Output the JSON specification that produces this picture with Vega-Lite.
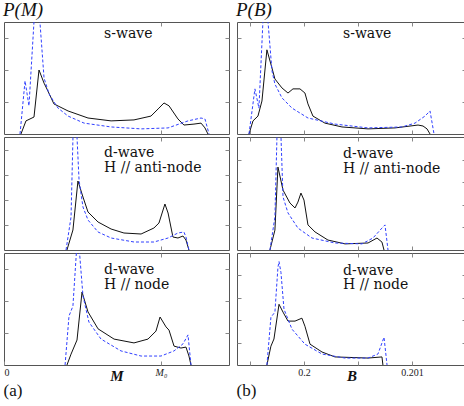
{
"$schema": "https://vega.github.io/schema/vega-lite/v6.json",
"padding": {"left": 3, "top": 1, "right": 0, "bottom": 0},
"background": "white",
"spacing": 6,
"config": {
  "view": {"stroke": "#555", "strokeWidth": 1},
  "axis": {"domain": false, "grid": false, "ticks": true, "tickSize": -4, "tickColor": "#888", "labels": false, "labelFont": "Liberation Serif", "labelFontSize": 10, "labelColor": "#222", "labelPadding": 6, "titleFont": "Liberation Serif", "titleFontStyle": "italic", "titleFontWeight": "bold", "titleFontSize": 15, "titleColor": "#111", "titlePadding": -9},
  "text": {"font": "DejaVu Serif", "fontSize": 14, "color": "#111", "align": "left", "baseline": "alphabetic"},
  "title": {"font": "Liberation Serif", "fontWeight": "normal", "color": "#111", "anchor": "start"}
},
"datasets": {"curves": [
{"p":"a1","s":"k","x":0.108,"y":0},{"p":"a1","s":"k","x":0.140,"y":0.41},{"p":"a1","s":"k","x":0.191,"y":0.53},{"p":"a1","s":"k","x":0.223,"y":2.0},{"p":"a1","s":"k","x":0.255,"y":1.59},{"p":"a1","s":"k","x":0.280,"y":1.34},{"p":"a1","s":"k","x":0.318,"y":0.94},{"p":"a1","s":"k","x":0.408,"y":0.72},{"p":"a1","s":"k","x":0.535,"y":0.5},{"p":"a1","s":"k","x":0.682,"y":0.41},{"p":"a1","s":"k","x":0.828,"y":0.44},{"p":"a1","s":"k","x":0.936,"y":0.56},{"p":"a1","s":"k","x":0.987,"y":0.81},{"p":"a1","s":"k","x":1.019,"y":0.97},{"p":"a1","s":"k","x":1.051,"y":0.88},{"p":"a1","s":"k","x":1.108,"y":0.47},{"p":"a1","s":"k","x":1.146,"y":0.28},{"p":"a1","s":"k","x":1.210,"y":0.31},{"p":"a1","s":"k","x":1.255,"y":0.34},{"p":"a1","s":"k","x":1.280,"y":0.19},{"p":"a1","s":"k","x":1.299,"y":0},
{"p":"a1","s":"b","x":0.102,"y":0},{"p":"a1","s":"b","x":0.134,"y":1.66},{"p":"a1","s":"b","x":0.159,"y":0.88},{"p":"a1","s":"b","x":0.208,"y":4.9},{"p":"a1","s":"b","x":0.255,"y":1.75},{"p":"a1","s":"b","x":0.287,"y":1.25},{"p":"a1","s":"b","x":0.344,"y":0.81},{"p":"a1","s":"b","x":0.408,"y":0.56},{"p":"a1","s":"b","x":0.510,"y":0.34},{"p":"a1","s":"b","x":0.682,"y":0.22},{"p":"a1","s":"b","x":0.873,"y":0.16},{"p":"a1","s":"b","x":1.045,"y":0.19},{"p":"a1","s":"b","x":1.172,"y":0.41},{"p":"a1","s":"b","x":1.255,"y":0.5},{"p":"a1","s":"b","x":1.280,"y":0.47},{"p":"a1","s":"b","x":1.306,"y":0},
{"p":"b1","s":"k","x":0.199491,"y":0},{"p":"b1","s":"k","x":0.199528,"y":0.41},{"p":"b1","s":"k","x":0.199574,"y":0.56},{"p":"b1","s":"k","x":0.199611,"y":1.03},{"p":"b1","s":"k","x":0.199657,"y":2.63},{"p":"b1","s":"k","x":0.199704,"y":2.06},{"p":"b1","s":"k","x":0.199731,"y":1.72},{"p":"b1","s":"k","x":0.199796,"y":1.44},{"p":"b1","s":"k","x":0.199852,"y":1.28},{"p":"b1","s":"k","x":0.199898,"y":1.41},{"p":"b1","s":"k","x":0.199963,"y":1.41},{"p":"b1","s":"k","x":0.200009,"y":1.28},{"p":"b1","s":"k","x":0.200037,"y":0.94},{"p":"b1","s":"k","x":0.200083,"y":0.56},{"p":"b1","s":"k","x":0.200194,"y":0.34},{"p":"b1","s":"k","x":0.200352,"y":0.22},{"p":"b1","s":"k","x":0.200593,"y":0.16},{"p":"b1","s":"k","x":0.200843,"y":0.19},{"p":"b1","s":"k","x":0.201056,"y":0.28},{"p":"b1","s":"k","x":0.201102,"y":0.25},{"p":"b1","s":"k","x":0.201139,"y":0.16},{"p":"b1","s":"k","x":0.201167,"y":0},
{"p":"b1","s":"b","x":0.199491,"y":0},{"p":"b1","s":"b","x":0.199546,"y":1.41},{"p":"b1","s":"b","x":0.199583,"y":0.81},{"p":"b1","s":"b","x":0.199637,"y":4.75},{"p":"b1","s":"b","x":0.199704,"y":1.97},{"p":"b1","s":"b","x":0.199731,"y":1.56},{"p":"b1","s":"b","x":0.199796,"y":1.13},{"p":"b1","s":"b","x":0.199889,"y":0.81},{"p":"b1","s":"b","x":0.200037,"y":0.5},{"p":"b1","s":"b","x":0.200287,"y":0.31},{"p":"b1","s":"b","x":0.200593,"y":0.19},{"p":"b1","s":"b","x":0.200907,"y":0.22},{"p":"b1","s":"b","x":0.201028,"y":0.34},{"p":"b1","s":"b","x":0.201120,"y":0.56},{"p":"b1","s":"b","x":0.201167,"y":0.72},{"p":"b1","s":"b","x":0.201204,"y":0},
{"p":"a2","s":"k","x":0.401,"y":0},{"p":"a2","s":"k","x":0.439,"y":0.8},{"p":"a2","s":"k","x":0.471,"y":2.76},{"p":"a2","s":"k","x":0.503,"y":2.12},{"p":"a2","s":"k","x":0.535,"y":1.52},{"p":"a2","s":"k","x":0.599,"y":1.12},{"p":"a2","s":"k","x":0.682,"y":0.84},{"p":"a2","s":"k","x":0.764,"y":0.68},{"p":"a2","s":"k","x":0.873,"y":0.64},{"p":"a2","s":"k","x":0.955,"y":0.88},{"p":"a2","s":"k","x":0.987,"y":1.08},{"p":"a2","s":"k","x":1.025,"y":1.84},{"p":"a2","s":"k","x":1.045,"y":1.48},{"p":"a2","s":"k","x":1.076,"y":0.52},{"p":"a2","s":"k","x":1.108,"y":0.48},{"p":"a2","s":"k","x":1.140,"y":0.56},{"p":"a2","s":"k","x":1.159,"y":0.4},{"p":"a2","s":"k","x":1.178,"y":0},
{"p":"a2","s":"b","x":0.395,"y":0},{"p":"a2","s":"b","x":0.427,"y":1.32},{"p":"a2","s":"b","x":0.448,"y":6.76},{"p":"a2","s":"b","x":0.478,"y":2.8},{"p":"a2","s":"b","x":0.503,"y":1.72},{"p":"a2","s":"b","x":0.535,"y":1.2},{"p":"a2","s":"b","x":0.599,"y":0.72},{"p":"a2","s":"b","x":0.682,"y":0.48},{"p":"a2","s":"b","x":0.828,"y":0.32},{"p":"a2","s":"b","x":0.955,"y":0.32},{"p":"a2","s":"b","x":1.045,"y":0.48},{"p":"a2","s":"b","x":1.108,"y":0.68},{"p":"a2","s":"b","x":1.146,"y":0.72},{"p":"a2","s":"b","x":1.159,"y":0.52},{"p":"a2","s":"b","x":1.178,"y":0},
{"p":"b2","s":"k","x":0.199685,"y":0},{"p":"b2","s":"k","x":0.199731,"y":0.88},{"p":"b2","s":"k","x":0.199759,"y":3.67},{"p":"b2","s":"k","x":0.199806,"y":2.65},{"p":"b2","s":"k","x":0.199870,"y":2.08},{"p":"b2","s":"k","x":0.199917,"y":1.86},{"p":"b2","s":"k","x":0.199944,"y":2.12},{"p":"b2","s":"k","x":0.199972,"y":2.52},{"p":"b2","s":"k","x":0.2,"y":2.21},{"p":"b2","s":"k","x":0.200037,"y":1.11},{"p":"b2","s":"k","x":0.200102,"y":0.8},{"p":"b2","s":"k","x":0.200222,"y":0.44},{"p":"b2","s":"k","x":0.200380,"y":0.27},{"p":"b2","s":"k","x":0.200593,"y":0.31},{"p":"b2","s":"k","x":0.200676,"y":0.53},{"p":"b2","s":"k","x":0.200722,"y":0.35},{"p":"b2","s":"k","x":0.200741,"y":0},
{"p":"b2","s":"b","x":0.199685,"y":0},{"p":"b2","s":"b","x":0.199731,"y":1.46},{"p":"b2","s":"b","x":0.199766,"y":8.0},{"p":"b2","s":"b","x":0.199806,"y":2.35},{"p":"b2","s":"b","x":0.199852,"y":1.64},{"p":"b2","s":"b","x":0.199944,"y":0.97},{"p":"b2","s":"b","x":0.200074,"y":0.53},{"p":"b2","s":"b","x":0.200287,"y":0.31},{"p":"b2","s":"b","x":0.200537,"y":0.27},{"p":"b2","s":"b","x":0.200639,"y":0.53},{"p":"b2","s":"b","x":0.200722,"y":0.97},{"p":"b2","s":"b","x":0.200750,"y":1.11},{"p":"b2","s":"b","x":0.200778,"y":0},
{"p":"a3","s":"k","x":0.401,"y":0},{"p":"a3","s":"k","x":0.427,"y":0.34},{"p":"a3","s":"k","x":0.465,"y":0.78},{"p":"a3","s":"k","x":0.497,"y":2.28},{"p":"a3","s":"k","x":0.535,"y":1.66},{"p":"a3","s":"k","x":0.599,"y":1.13},{"p":"a3","s":"k","x":0.701,"y":0.81},{"p":"a3","s":"k","x":0.828,"y":0.69},{"p":"a3","s":"k","x":0.917,"y":0.81},{"p":"a3","s":"k","x":0.968,"y":1.06},{"p":"a3","s":"k","x":0.994,"y":1.5},{"p":"a3","s":"k","x":1.032,"y":1.19},{"p":"a3","s":"k","x":1.051,"y":1.09},{"p":"a3","s":"k","x":1.083,"y":0.59},{"p":"a3","s":"k","x":1.127,"y":0.53},{"p":"a3","s":"k","x":1.159,"y":0.56},{"p":"a3","s":"k","x":1.178,"y":0.28},{"p":"a3","s":"k","x":1.191,"y":0},
{"p":"a3","s":"b","x":0.389,"y":0},{"p":"a3","s":"b","x":0.414,"y":1.53},{"p":"a3","s":"b","x":0.439,"y":1.84},{"p":"a3","s":"b","x":0.470,"y":4.19},{"p":"a3","s":"b","x":0.503,"y":2.16},{"p":"a3","s":"b","x":0.541,"y":1.34},{"p":"a3","s":"b","x":0.618,"y":0.81},{"p":"a3","s":"b","x":0.745,"y":0.44},{"p":"a3","s":"b","x":0.873,"y":0.28},{"p":"a3","s":"b","x":1.0,"y":0.28},{"p":"a3","s":"b","x":1.083,"y":0.44},{"p":"a3","s":"b","x":1.140,"y":0.66},{"p":"a3","s":"b","x":1.172,"y":0.94},{"p":"a3","s":"b","x":1.191,"y":0},
{"p":"b3","s":"k","x":0.199657,"y":0},{"p":"b3","s":"k","x":0.199694,"y":0.84},{"p":"b3","s":"k","x":0.199722,"y":1.16},{"p":"b3","s":"k","x":0.199769,"y":2.71},{"p":"b3","s":"k","x":0.199806,"y":2.36},{"p":"b3","s":"k","x":0.199852,"y":1.96},{"p":"b3","s":"k","x":0.199917,"y":1.96},{"p":"b3","s":"k","x":0.199981,"y":2.09},{"p":"b3","s":"k","x":0.200009,"y":1.73},{"p":"b3","s":"k","x":0.200056,"y":0.93},{"p":"b3","s":"k","x":0.200167,"y":0.58},{"p":"b3","s":"k","x":0.200287,"y":0.36},{"p":"b3","s":"k","x":0.200593,"y":0.31},{"p":"b3","s":"k","x":0.200722,"y":0.36},{"p":"b3","s":"k","x":0.200731,"y":0},
{"p":"b3","s":"b","x":0.199657,"y":0},{"p":"b3","s":"b","x":0.199694,"y":2.13},{"p":"b3","s":"b","x":0.199731,"y":2.36},{"p":"b3","s":"b","x":0.199759,"y":4.36},{"p":"b3","s":"b","x":0.199769,"y":4.62},{"p":"b3","s":"b","x":0.199787,"y":4.13},{"p":"b3","s":"b","x":0.199815,"y":2.49},{"p":"b3","s":"b","x":0.199889,"y":1.6},{"p":"b3","s":"b","x":0.200009,"y":0.93},{"p":"b3","s":"b","x":0.200167,"y":0.49},{"p":"b3","s":"b","x":0.200380,"y":0.31},{"p":"b3","s":"b","x":0.200593,"y":0.31},{"p":"b3","s":"b","x":0.200685,"y":0.49},{"p":"b3","s":"b","x":0.200741,"y":1.24},{"p":"b3","s":"b","x":0.200769,"y":0}
]},
"hconcat": [
{"spacing": 1,
 "title": {"text": "P(M)", "font": "Liberation Serif", "fontStyle": "italic", "fontSize": 19, "offset": 1},
 "vconcat": [
  {"width": 225, "height": 112,
   "layer": [
    {"data": {"name": "curves"}, "transform": [{"filter": "datum.p == 'a1' && datum.s == 'k'"}],
     "mark": {"type": "line", "color": "#111", "strokeWidth": 1, "clip": true},
     "encoding": {"x": {"field": "x", "type": "quantitative", "scale": {"domain": [0, 1.4331], "nice": false, "zero": false}, "axis": {"orient": "bottom", "values": [1], "title": null}},
                  "y": {"field": "y", "type": "quantitative", "scale": {"domain": [0, 3.5], "nice": false}, "axis": {"orient": "left", "values": [1, 2, 3], "title": null}}}},
    {"data": {"name": "curves"}, "transform": [{"filter": "datum.p == 'a1' && datum.s == 'b'"}],
     "mark": {"type": "line", "color": "#3040ff", "strokeWidth": 1, "strokeDash": [3, 2], "clip": true},
     "encoding": {"x": {"field": "x", "type": "quantitative", "axis": {"orient": "top", "values": [1], "title": null}},
                  "y": {"field": "y", "type": "quantitative", "axis": {"orient": "right", "values": [1, 2, 3], "title": null}}}},
    {"data": {"values": [{"t": "s-wave"}]}, "mark": {"type": "text"},
     "encoding": {"x": {"datum": 0.637, "type": "quantitative", "axis": null}, "y": {"datum": 3.0, "type": "quantitative", "axis": null}, "text": {"field": "t"}}}
   ],
   "resolve": {"axis": {"x": "independent", "y": "independent"}}},
  {"width": 225, "height": 113,
   "layer": [
    {"data": {"name": "curves"}, "transform": [{"filter": "datum.p == 'a2' && datum.s == 'k'"}],
     "mark": {"type": "line", "color": "#111", "strokeWidth": 1, "clip": true},
     "encoding": {"x": {"field": "x", "type": "quantitative", "scale": {"domain": [0, 1.4331], "nice": false, "zero": false}, "axis": {"orient": "bottom", "values": [1], "title": null}},
                  "y": {"field": "y", "type": "quantitative", "scale": {"domain": [0, 4.52], "nice": false}, "axis": {"orient": "left", "values": [1, 2, 3, 4], "title": null}}}},
    {"data": {"name": "curves"}, "transform": [{"filter": "datum.p == 'a2' && datum.s == 'b'"}],
     "mark": {"type": "line", "color": "#3040ff", "strokeWidth": 1, "strokeDash": [3, 2], "clip": true},
     "encoding": {"x": {"field": "x", "type": "quantitative", "axis": {"orient": "top", "values": [1], "title": null}},
                  "y": {"field": "y", "type": "quantitative", "axis": {"orient": "right", "values": [1, 2, 3, 4], "title": null}}}},
    {"data": {"values": [{"t": "d-wave"}]}, "mark": {"type": "text"},
     "encoding": {"x": {"datum": 0.637, "type": "quantitative", "axis": null}, "y": {"datum": 3.72, "type": "quantitative", "axis": null}, "text": {"field": "t"}}},
    {"data": {"values": [{"t": "H // anti-node"}]}, "mark": {"type": "text"},
     "encoding": {"x": {"datum": 0.637, "type": "quantitative", "axis": null}, "y": {"datum": 3.12, "type": "quantitative", "axis": null}, "text": {"field": "t"}}}
   ],
   "resolve": {"axis": {"x": "independent", "y": "independent"}}},
  {"width": 225, "height": 112,
   "title": {"text": "(a)", "orient": "bottom", "anchor": "start", "font": "Liberation Serif", "fontSize": 17, "offset": 0},
   "layer": [
    {"data": {"name": "curves"}, "transform": [{"filter": "datum.p == 'a3' && datum.s == 'k'"}],
     "mark": {"type": "line", "color": "#111", "strokeWidth": 1, "clip": true},
     "encoding": {"x": {"field": "x", "type": "quantitative", "scale": {"domain": [0, 1.4331], "nice": false, "zero": false}, "axis": {"orient": "bottom", "values": [0, 1], "labels": true, "labelExpr": "datum.value == 0 ? '0' : 'M₀'", "labelFontStyle": {"condition": {"test": "datum.value == 1", "value": "italic"}, "value": "normal"}, "title": "M"}},
                  "y": {"field": "y", "type": "quantitative", "scale": {"domain": [0, 3.5], "nice": false}, "axis": {"orient": "left", "values": [1, 2, 3], "title": null}}}},
    {"data": {"name": "curves"}, "transform": [{"filter": "datum.p == 'a3' && datum.s == 'b'"}],
     "mark": {"type": "line", "color": "#3040ff", "strokeWidth": 1, "strokeDash": [3, 2], "clip": true},
     "encoding": {"x": {"field": "x", "type": "quantitative", "axis": {"orient": "top", "values": [1], "title": null}},
                  "y": {"field": "y", "type": "quantitative", "axis": {"orient": "right", "values": [1, 2, 3], "title": null}}}},
    {"data": {"values": [{"t": "d-wave"}]}, "mark": {"type": "text"},
     "encoding": {"x": {"datum": 0.637, "type": "quantitative", "axis": null}, "y": {"datum": 2.84, "type": "quantitative", "axis": null}, "text": {"field": "t"}}},
    {"data": {"values": [{"t": "H // node"}]}, "mark": {"type": "text"},
     "encoding": {"x": {"datum": 0.637, "type": "quantitative", "axis": null}, "y": {"datum": 2.38, "type": "quantitative", "axis": null}, "text": {"field": "t"}}}
   ],
   "resolve": {"axis": {"x": "independent", "y": "independent"}}}
 ]},
{"spacing": 1,
 "title": {"text": "P(B)", "font": "Liberation Serif", "fontStyle": "italic", "fontSize": 19, "offset": 1},
 "vconcat": [
  {"width": 229, "height": 112,
   "layer": [
    {"data": {"name": "curves"}, "transform": [{"filter": "datum.p == 'b1' && datum.s == 'k'"}],
     "mark": {"type": "line", "color": "#111", "strokeWidth": 1, "clip": true},
     "encoding": {"x": {"field": "x", "type": "quantitative", "scale": {"domain": [0.19938, 0.2015], "nice": false, "zero": false}, "axis": {"orient": "bottom", "values": [0.1995, 0.2, 0.2005, 0.201], "title": null}},
                  "y": {"field": "y", "type": "quantitative", "scale": {"domain": [0, 3.5], "nice": false}, "axis": {"orient": "left", "values": [1, 2, 3], "title": null}}}},
    {"data": {"name": "curves"}, "transform": [{"filter": "datum.p == 'b1' && datum.s == 'b'"}],
     "mark": {"type": "line", "color": "#3040ff", "strokeWidth": 1, "strokeDash": [3, 2], "clip": true},
     "encoding": {"x": {"field": "x", "type": "quantitative", "axis": {"orient": "top", "values": [0.1995, 0.2, 0.2005, 0.201], "title": null}},
                  "y": {"field": "y", "type": "quantitative", "axis": {"orient": "right", "values": [1, 2, 3], "title": null}}}},
    {"data": {"values": [{"t": "s-wave"}]}, "mark": {"type": "text"},
     "encoding": {"x": {"datum": 0.200361, "type": "quantitative", "axis": null}, "y": {"datum": 3.0, "type": "quantitative", "axis": null}, "text": {"field": "t"}}}
   ],
   "resolve": {"axis": {"x": "independent", "y": "independent"}}},
  {"width": 229, "height": 113,
   "layer": [
    {"data": {"name": "curves"}, "transform": [{"filter": "datum.p == 'b2' && datum.s == 'k'"}],
     "mark": {"type": "line", "color": "#111", "strokeWidth": 1, "clip": true},
     "encoding": {"x": {"field": "x", "type": "quantitative", "scale": {"domain": [0.19938, 0.2015], "nice": false, "zero": false}, "axis": {"orient": "bottom", "values": [0.1995, 0.2, 0.2005, 0.201], "title": null}},
                  "y": {"field": "y", "type": "quantitative", "scale": {"domain": [0, 5], "nice": false}, "axis": {"orient": "left", "values": [1, 2, 3, 4], "title": null}}}},
    {"data": {"name": "curves"}, "transform": [{"filter": "datum.p == 'b2' && datum.s == 'b'"}],
     "mark": {"type": "line", "color": "#3040ff", "strokeWidth": 1, "strokeDash": [3, 2], "clip": true},
     "encoding": {"x": {"field": "x", "type": "quantitative", "axis": {"orient": "top", "values": [0.1995, 0.2, 0.2005, 0.201], "title": null}},
                  "y": {"field": "y", "type": "quantitative", "axis": {"orient": "right", "values": [1, 2, 3, 4], "title": null}}}},
    {"data": {"values": [{"t": "d-wave"}]}, "mark": {"type": "text"},
     "encoding": {"x": {"datum": 0.200361, "type": "quantitative", "axis": null}, "y": {"datum": 4.07, "type": "quantitative", "axis": null}, "text": {"field": "t"}}},
    {"data": {"values": [{"t": "H // anti-node"}]}, "mark": {"type": "text"},
     "encoding": {"x": {"datum": 0.200361, "type": "quantitative", "axis": null}, "y": {"datum": 3.41, "type": "quantitative", "axis": null}, "text": {"field": "t"}}}
   ],
   "resolve": {"axis": {"x": "independent", "y": "independent"}}},
  {"width": 229, "height": 112,
   "title": {"text": "(b)", "orient": "bottom", "anchor": "start", "font": "Liberation Serif", "fontSize": 17, "offset": 0},
   "layer": [
    {"data": {"name": "curves"}, "transform": [{"filter": "datum.p == 'b3' && datum.s == 'k'"}],
     "mark": {"type": "line", "color": "#111", "strokeWidth": 1, "clip": true},
     "encoding": {"x": {"field": "x", "type": "quantitative", "scale": {"domain": [0.19938, 0.2015], "nice": false, "zero": false}, "axis": {"orient": "bottom", "values": [0.1995, 0.2, 0.2005, 0.201], "labels": true, "labelExpr": "abs(datum.value - 0.2) < 1e-7 ? '0.2' : (abs(datum.value - 0.201) < 1e-7 ? '0.201' : '')", "title": "B"}},
                  "y": {"field": "y", "type": "quantitative", "scale": {"domain": [0, 5], "nice": false}, "axis": {"orient": "left", "values": [1, 2, 3, 4], "title": null}}}},
    {"data": {"name": "curves"}, "transform": [{"filter": "datum.p == 'b3' && datum.s == 'b'"}],
     "mark": {"type": "line", "color": "#3040ff", "strokeWidth": 1, "strokeDash": [3, 2], "clip": true},
     "encoding": {"x": {"field": "x", "type": "quantitative", "axis": {"orient": "top", "values": [0.1995, 0.2, 0.2005, 0.201], "title": null}},
                  "y": {"field": "y", "type": "quantitative", "axis": {"orient": "right", "values": [1, 2, 3, 4], "title": null}}}},
    {"data": {"values": [{"t": "d-wave"}]}, "mark": {"type": "text"},
     "encoding": {"x": {"datum": 0.200361, "type": "quantitative", "axis": null}, "y": {"datum": 4.04, "type": "quantitative", "axis": null}, "text": {"field": "t"}}},
    {"data": {"values": [{"t": "H // node"}]}, "mark": {"type": "text"},
     "encoding": {"x": {"datum": 0.200361, "type": "quantitative", "axis": null}, "y": {"datum": 3.38, "type": "quantitative", "axis": null}, "text": {"field": "t"}}}
   ],
   "resolve": {"axis": {"x": "independent", "y": "independent"}}}
 ]}
]
}
